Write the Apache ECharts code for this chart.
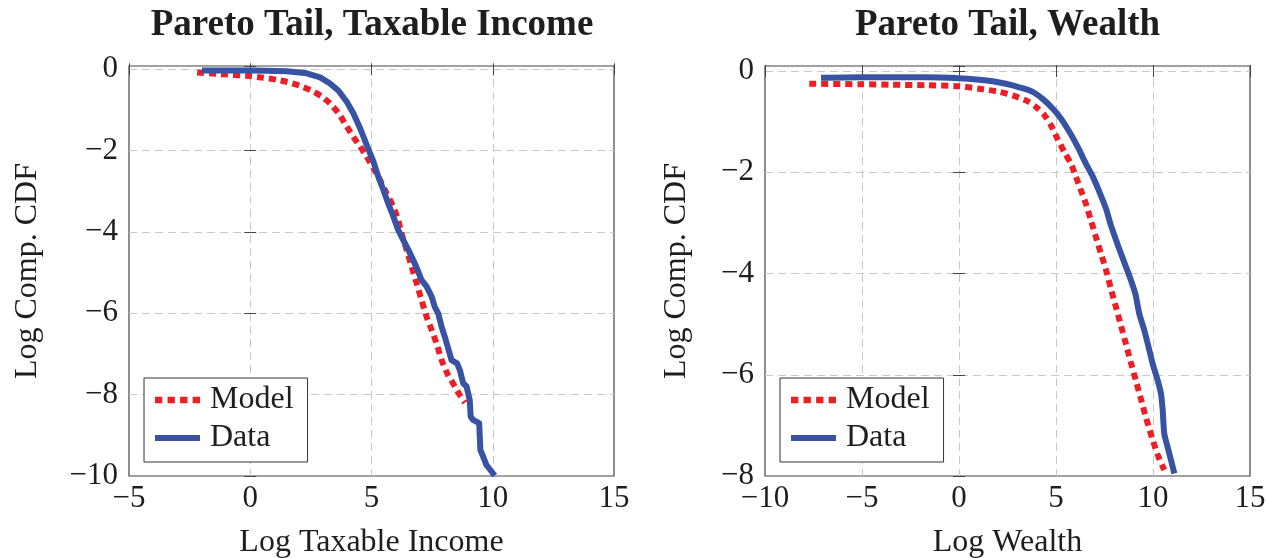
<!DOCTYPE html>
<html>
<head>
<meta charset="utf-8">
<script src="https://cdn.jsdelivr.net/npm/echarts@6/dist/echarts.min.js"></script>
<style>html,body{margin:0;padding:0;background:#fff}#c{width:1266px;height:558px}</style>
</head>
<body>
<div id="c"></div>
<script>
// ---- Data: Pareto tail, taxable income (left panel) ----
const incomeModelX = [-2.19,-1.23,-0.14,0.55,1.10,1.65,2.06,2.54,2.95,3.29,3.64,3.98,4.25,4.53,4.80,5.08,5.35,5.62,5.90,6.10,6.28,6.45,6.65,6.86,7.06,7.27,7.48,7.68,7.89,8.16,8.44,8.64,8.85];
const incomeModelY = [-0.08,-0.12,-0.16,-0.21,-0.26,-0.33,-0.41,-0.53,-0.67,-0.84,-1.08,-1.41,-1.66,-1.90,-2.15,-2.43,-2.72,-3.05,-3.38,-3.71,-4.12,-4.44,-4.85,-5.26,-5.67,-6.08,-6.41,-6.74,-7.15,-7.52,-7.80,-8.01,-8.20];
const incomeDataX = [-1.99,0.14,1.51,2.33,2.88,3.29,3.64,3.98,4.25,4.53,4.80,5.08,5.28,5.49,5.69,5.90,6.10,6.31,6.52,6.72,6.93,7.06,7.27,7.48,7.61,7.75,7.89,8.02,8.16,8.30,8.53,8.64,8.78,8.92,9.05,9.09,9.19,9.44,9.49,9.60,9.74,9.95,10.08];
const incomeDataY = [-0.03,-0.03,-0.05,-0.10,-0.20,-0.35,-0.53,-0.80,-1.08,-1.45,-1.86,-2.27,-2.64,-2.97,-3.30,-3.62,-3.95,-4.20,-4.44,-4.69,-4.98,-5.18,-5.34,-5.59,-5.84,-6.00,-6.33,-6.57,-6.86,-7.15,-7.23,-7.39,-7.72,-7.80,-8.13,-8.54,-8.62,-8.70,-9.36,-9.52,-9.73,-9.89,-9.99];

// ---- Data: Pareto tail, wealth (right panel) ----
const wealthModelX = [-7.72,-5.14,-3.42,-1.70,0.02,1.05,2.08,2.76,3.45,3.97,4.40,4.74,5.08,5.43,5.77,6.03,6.29,6.54,6.80,7.06,7.32,7.58,7.83,8.09,8.35,8.61,8.86,9.12,9.38,9.64,9.98,10.24,10.58];
const wealthModelY = [-0.25,-0.26,-0.27,-0.28,-0.30,-0.35,-0.41,-0.48,-0.58,-0.71,-0.87,-1.07,-1.34,-1.60,-1.83,-2.09,-2.36,-2.62,-2.95,-3.28,-3.61,-3.93,-4.30,-4.66,-5.03,-5.40,-5.76,-6.12,-6.48,-6.85,-7.28,-7.58,-7.88];
const wealthDataX = [-7.11,-5.14,-3.42,-1.70,0.02,1.05,1.73,2.42,3.11,3.80,4.31,4.83,5.26,5.69,6.12,6.54,6.89,7.23,7.58,7.83,8.18,8.52,8.86,9.09,9.29,9.55,9.77,9.98,10.24,10.41,10.50,10.58,10.75,10.93,11.10];
const wealthDataY = [-0.13,-0.12,-0.12,-0.12,-0.14,-0.17,-0.20,-0.25,-0.32,-0.41,-0.55,-0.74,-0.94,-1.20,-1.50,-1.83,-2.08,-2.38,-2.72,-3.05,-3.43,-3.78,-4.13,-4.40,-4.79,-5.12,-5.45,-5.78,-6.11,-6.37,-6.70,-7.16,-7.42,-7.69,-7.95];

// ---- Text ----
const titles = ['Pareto Tail, Taxable Income', 'Pareto Tail, Wealth'];
const xNames = ['Log Taxable Income', 'Log Wealth'];
const yName = 'Log Comp. CDF';
const seriesNames = ['Model', 'Data'];

const zip = (xs, ys) => xs.map((x, i) => [x, ys[i]]);
const FONT = '"Liberation Serif", "Times New Roman", serif';
const TXT = '#1e1e1e';
const RED = '#ec1f26';
const BLUE = '#3953a4';
const FRAME = '#444';

const fmt = v => {
  if (Math.abs(v - Math.round(v)) > 1e-6) return '';
  return v < 0 ? '\u2212' + Math.abs(v) : String(v);
};

function xAxis(gi, pos, min, max, interval, name) {
  const primary = pos === 'bottom';
  return {
    type: 'value', gridIndex: gi, position: pos, min, max, interval,
    name: primary ? name : '', nameLocation: 'middle', nameGap: 51,
    nameTextStyle: { fontFamily: FONT, fontSize: 32, color: TXT },
    axisLine: { show: false },
    axisTick: { show: true, inside: true, length: 6, lineStyle: { color: FRAME, width: 1 } },
    axisLabel: { show: primary, margin: 7, fontFamily: FONT, fontSize: 31, color: TXT, formatter: fmt },
    splitLine: { show: primary, showMinLine: false, showMaxLine: false, lineStyle: { color: '#c8c8c8', width: 1, type: [8, 5] } }
  };
}
function yAxis(gi, pos, min, max, interval, gap) {
  const primary = pos === 'left';
  return {
    type: 'value', gridIndex: gi, position: pos, min, max, interval,
    name: primary ? yName : '', nameLocation: 'middle', nameGap: gap, nameRotate: 90,
    nameTextStyle: { fontFamily: FONT, fontSize: 32, color: TXT },
    axisLine: { show: false },
    axisTick: { show: true, inside: true, length: 6, lineStyle: { color: FRAME, width: 1 } },
    axisLabel: { show: primary, margin: 11, fontFamily: FONT, fontSize: 31, color: TXT, formatter: fmt },
    splitLine: { show: primary, showMinLine: false, showMaxLine: false, lineStyle: { color: '#c8c8c8', width: 1, type: [8, 5] } }
  };
}
function modelSeries(xi, yi, data, smooth) {
  return { name: seriesNames[0], type: 'line', xAxisIndex: xi, yAxisIndex: yi, data,
    symbol: 'none', showSymbol: false, smooth, z: 2,
    lineStyle: { color: RED, width: 6, type: [7, 5], cap: 'butt' }, itemStyle: { color: RED } };
}
function dataSeries(xi, yi, data, smooth) {
  return { name: seriesNames[1], type: 'line', xAxisIndex: xi, yAxisIndex: yi, data,
    symbol: 'none', showSymbol: false, smooth, z: 3,
    lineStyle: { color: BLUE, width: 6, type: 'solid', cap: 'butt', join: 'round' }, itemStyle: { color: BLUE } };
}
const ICON_DOTTED = 'path://M0,0h7v6h-7z M12,0h7v6h-7z M24,0h7v6h-7z M36,0h7v6h-7z';
const ICON_SOLID = 'path://M0,0h45v6h-45z';
function legend(left) {
  return {
    data: [
      { name: seriesNames[0], icon: ICON_DOTTED, itemStyle: { color: RED } },
      { name: seriesNames[1], icon: ICON_SOLID, itemStyle: { color: BLUE } }
    ],
    left, top: 378, orient: 'vertical', selectedMode: false,
    itemWidth: 45, itemHeight: 7, itemGap: 6, padding: [6, 14, 8, 11],
    borderColor: '#333', borderWidth: 1, backgroundColor: '#fff', borderRadius: 0,
    textStyle: { fontFamily: FONT, fontSize: 32, color: TXT, lineHeight: 32, padding: [0, 0, 0, 5] } };
}

const chart = echarts.init(document.getElementById('c'), null, { renderer: 'canvas' });
chart.setOption({
  animation: false,
  backgroundColor: '#fff',
  graphic: [
    { type: 'text', x: 372, y: 25, style: { text: titles[0], font: 'bold 37px ' + FONT, fill: TXT, align: 'center', verticalAlign: 'middle' } },
    { type: 'text', x: 1007.5, y: 25, style: { text: titles[1], font: 'bold 37px ' + FONT, fill: TXT, align: 'center', verticalAlign: 'middle' } }
  ],
  grid: [
    { left: 129, top: 66, width: 485, height: 410, outerBoundsMode: 'none', containLabel: false, show: true, borderColor: FRAME, borderWidth: 1.2, backgroundColor: 'transparent' },
    { left: 765, top: 66, width: 485, height: 410, outerBoundsMode: 'none', containLabel: false, show: true, borderColor: FRAME, borderWidth: 1.2, backgroundColor: 'transparent' }
  ],
  xAxis: [
    xAxis(0, 'bottom', -5, 15, 5, xNames[0]),
    xAxis(0, 'top', -5, 15, 5, ''),
    xAxis(1, 'bottom', -10, 15, 5, xNames[1]),
    xAxis(1, 'top', -10, 15, 5, '')
  ],
  yAxis: [
    yAxis(0, 'left', -10, 0.08, 2, 85),
    yAxis(0, 'right', -10, 0.08, 2, 0),
    yAxis(1, 'left', -8, 0.1, 2, 72),
    yAxis(1, 'right', -8, 0.1, 2, 0)
  ],
  legend: [legend(144), legend(780)],
  series: [
    modelSeries(0, 0, zip(incomeModelX, incomeModelY), 0.2),
    dataSeries(0, 0, zip(incomeDataX, incomeDataY), false),
    modelSeries(2, 2, zip(wealthModelX, wealthModelY), 0.25),
    dataSeries(2, 2, zip(wealthDataX, wealthDataY), 0.25)
  ]
});
</script>
</body>
</html>
